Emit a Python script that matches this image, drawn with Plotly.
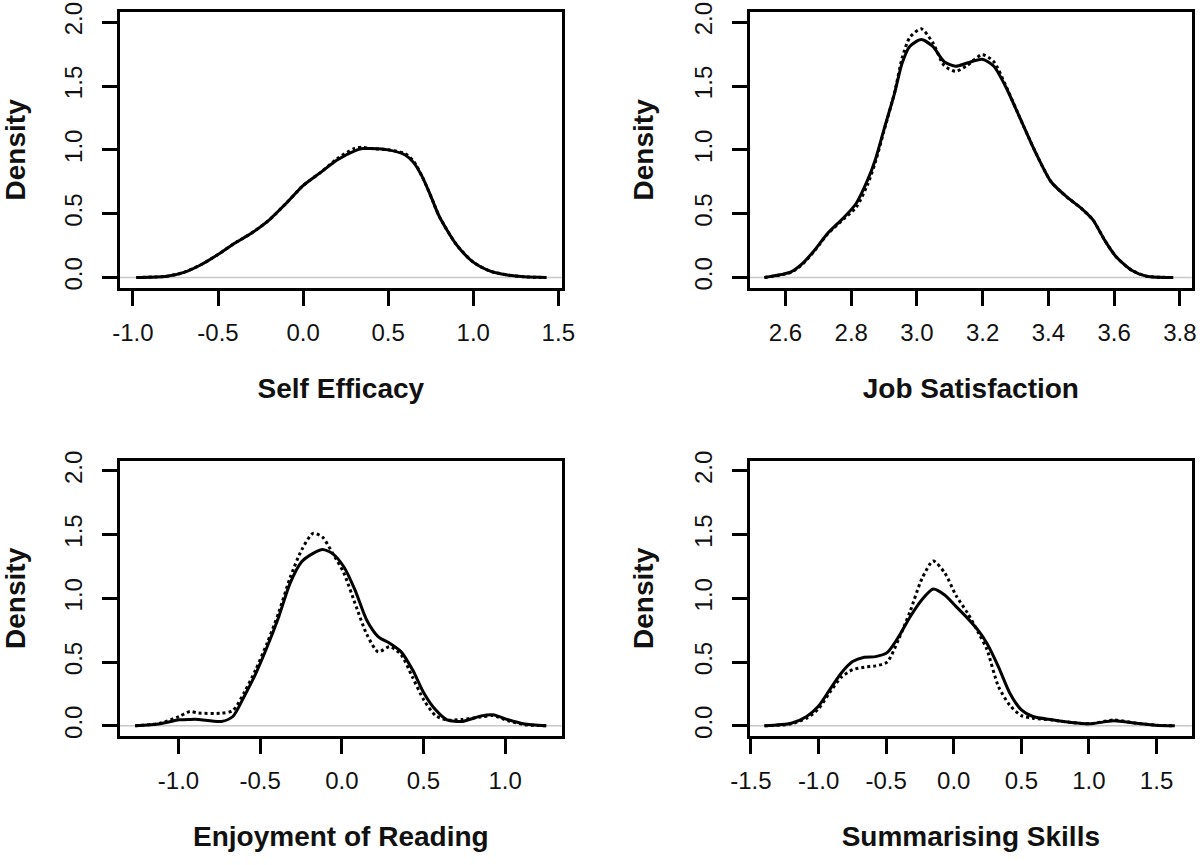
import plotly.graph_objects as go

# ---------------- data ----------------
titles = ["Self Efficacy", "Job Satisfaction", "Enjoyment of Reading", "Summarising Skills"]

se_x = [-0.98, -0.8, -0.7, -0.6, -0.5, -0.4, -0.3, -0.2, -0.1, 0.0, 0.1, 0.2, 0.3, 0.35, 0.4,
        0.5, 0.6, 0.65, 0.7, 0.75, 0.8, 0.9, 1.0, 1.1, 1.2, 1.3, 1.43]
se_solid = [0.0, 0.01, 0.04, 0.1, 0.18, 0.27, 0.35, 0.45, 0.58, 0.72, 0.82, 0.92, 0.99, 1.01, 1.01,
            1.0, 0.96, 0.9, 0.79, 0.64, 0.48, 0.26, 0.12, 0.05, 0.02, 0.005, 0.0]
se_dot = [0.0, 0.01, 0.04, 0.1, 0.18, 0.27, 0.35, 0.45, 0.58, 0.72, 0.82, 0.93, 1.01, 1.02, 1.01,
          1.0, 0.97, 0.91, 0.79, 0.64, 0.48, 0.26, 0.12, 0.05, 0.02, 0.005, 0.0]

js_x = [2.536, 2.617, 2.652, 2.687, 2.728, 2.78, 2.815, 2.85, 2.873, 2.902, 2.932, 2.955, 2.978,
        3.013, 3.048, 3.083, 3.118, 3.152, 3.199, 3.234, 3.269, 3.316, 3.362, 3.408, 3.455,
        3.501, 3.536, 3.571, 3.606, 3.653, 3.699, 3.78]
js_solid = [0.0, 0.044, 0.11, 0.21, 0.345, 0.476, 0.58, 0.764, 0.92, 1.18, 1.445, 1.68, 1.81,
            1.864, 1.81, 1.69, 1.655, 1.68, 1.71, 1.655, 1.5, 1.235, 0.974, 0.75, 0.633,
            0.54, 0.45, 0.293, 0.162, 0.057, 0.01, 0.0]
js_dot = [0.0, 0.04, 0.105, 0.205, 0.34, 0.465, 0.55, 0.73, 0.9, 1.17, 1.45, 1.72, 1.88,
          1.948, 1.84, 1.66, 1.615, 1.66, 1.746, 1.69, 1.51, 1.235, 0.974, 0.75, 0.633,
          0.54, 0.45, 0.293, 0.162, 0.057, 0.01, 0.0]

er_x = [-1.265, -1.113, -0.996, -0.93, -0.878, -0.738, -0.667, -0.598, -0.527, -0.457, -0.386,
        -0.317, -0.246, -0.176, -0.118, -0.059, 0.012, 0.081, 0.152, 0.222, 0.293, 0.362,
        0.433, 0.503, 0.574, 0.644, 0.737, 0.854, 0.925, 1.018, 1.112, 1.252]
er_solid = [0.0, 0.016, 0.047, 0.05, 0.05, 0.034, 0.073, 0.23, 0.41, 0.62, 0.856, 1.118, 1.287,
            1.353, 1.384, 1.353, 1.248, 1.065, 0.83, 0.70, 0.648, 0.582, 0.439, 0.256, 0.125,
            0.047, 0.034, 0.078, 0.086, 0.047, 0.016, 0.0]
er_dot = [0.0, 0.02, 0.073, 0.112, 0.10, 0.099, 0.12, 0.26, 0.44, 0.65, 0.89, 1.16, 1.38,
          1.51, 1.48, 1.36, 1.2, 0.96, 0.72, 0.58, 0.62, 0.56, 0.38, 0.2, 0.08,
          0.045, 0.05, 0.07, 0.08, 0.04, 0.01, 0.0]

ss_x = [-1.40, -1.202, -1.088, -1.003, -0.918, -0.833, -0.748, -0.662, -0.578, -0.493, -0.407,
        -0.322, -0.237, -0.152, -0.067, 0.018, 0.103, 0.188, 0.245, 0.33, 0.415, 0.50, 0.585,
        0.727, 0.869, 1.011, 1.181, 1.352, 1.493, 1.635]
ss_solid = [0.0, 0.02, 0.073, 0.151, 0.282, 0.413, 0.504, 0.538, 0.543, 0.574, 0.70, 0.856, 0.987,
            1.073, 1.026, 0.935, 0.843, 0.739, 0.648, 0.465, 0.256, 0.125, 0.073, 0.047, 0.026,
            0.016, 0.039, 0.02, 0.005, 0.0]
ss_dot = [0.0, 0.015, 0.06, 0.13, 0.26, 0.38, 0.44, 0.46, 0.47, 0.50, 0.68, 0.9, 1.15,
          1.293, 1.2, 1.02, 0.883, 0.72, 0.6, 0.31, 0.16, 0.08, 0.06, 0.045, 0.026,
          0.016, 0.045, 0.02, 0.005, 0.0]

x_ranges = [[-1.076, 1.52], [2.492, 3.836], [-1.358, 1.346], [-1.507, 1.76]]
x_ticks = [[-1.0, -0.5, 0.0, 0.5, 1.0, 1.5],
           [2.6, 2.8, 3.0, 3.2, 3.4, 3.6, 3.8],
           [-1.0, -0.5, 0.0, 0.5, 1.0],
           [-1.5, -1.0, -0.5, 0.0, 0.5, 1.0, 1.5]]
y_ticks = [0.0, 0.5, 1.0, 1.5, 2.0]
y_range = [-0.08, 2.08]

series = [(se_x, se_solid, se_dot), (js_x, js_solid, js_dot),
          (er_x, er_solid, er_dot), (ss_x, ss_solid, ss_dot)]

# ---------------- layout geometry ----------------
W, H = 1200, 865
x_doms = [[120 / W, 561.7 / W], [750 / W, 1191.7 / W]]
y_doms = [[1 - 287.7 / H, 1 - 12 / H], [1 - 736 / H, 1 - 460.7 / H]]

tick_font = dict(family="Liberation Sans Narrow, Arial Narrow, Liberation Sans, Arial", size=24, color="#111")
title_font = dict(family="Liberation Sans, Arial, Helvetica", size=28, color="#111")

fig = go.Figure()
layout = dict(width=W, height=H, margin=dict(l=0, r=0, t=0, b=0, autoexpand=False),
              paper_bgcolor="white", plot_bgcolor="white", showlegend=False)
shapes = []

for i, (xs, ys_solid, ys_dot) in enumerate(series):
    n = "" if i == 0 else str(i + 1)
    col, row = i % 2, i // 2
    xa, ya = "x" + n, "y" + n
    fig.add_trace(go.Scatter(x=xs, y=ys_dot, mode="lines", xaxis=xa, yaxis=ya,
                             line=dict(color="black", width=3, dash="dot", shape="spline", smoothing=0.7)))
    fig.add_trace(go.Scatter(x=xs, y=ys_solid, mode="lines", xaxis=xa, yaxis=ya,
                             line=dict(color="black", width=3, shape="spline", smoothing=0.7)))
    common = dict(showline=True, mirror=True, linecolor="black", linewidth=3,
                  ticks="outside", ticklen=15, tickwidth=3, tickcolor="black",
                  showgrid=False, zeroline=False, tickfont=tick_font, automargin=False)
    layout["xaxis" + n] = dict(domain=x_doms[col], anchor=ya, range=x_ranges[i],
                               tickmode="array", tickvals=x_ticks[i],
                               ticktext=[f"{v:.1f}" for v in x_ticks[i]],
                               ticklabelstandoff=6,
                               title=dict(text="<b>" + titles[i] + "</b>", font=title_font, standoff=34),
                               **common)
    layout["yaxis" + n] = dict(domain=y_doms[row], anchor=xa, range=y_range,
                               tickmode="array", tickvals=y_ticks,
                               ticktext=[f"{v:.1f}" for v in y_ticks],
                               tickangle=-90, ticklabelstandoff=10,
                               title=dict(text="<b>Density</b>", font=title_font, standoff=29),
                               **common)
    shapes.append(dict(type="line", xref=xa + " domain", yref=ya, x0=0, x1=1, y0=0, y1=0,
                       line=dict(color="#c8c8c8", width=1.5), layer="below"))

layout["shapes"] = shapes
fig.update_layout(**layout)
fig.write_html("out.html", config={"displayModeBar": False},
               post_script="document.body.style.margin='0';document.body.style.overflow='hidden';")
